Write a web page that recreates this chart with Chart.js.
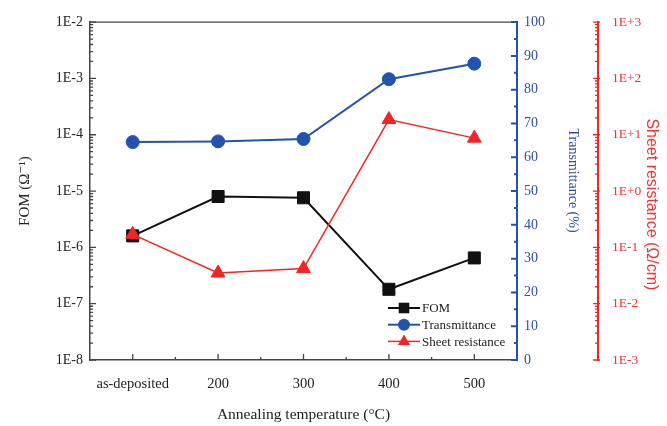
<!DOCTYPE html>
<html>
<head>
<meta charset="utf-8">
<script src="https://cdn.jsdelivr.net/npm/chart.js@4"></script>
<style>
  html, body { margin: 0; padding: 0; background: #fff; }
  #wrap { width: 667px; height: 426px; }
</style>
</head>
<body>
<div id="wrap"><canvas id="chart" width="667" height="426"></canvas></div>
<script>
const temperatures = ['as-deposited', '200', '300', '400', '500'];
const fom = [1.6e-6, 8.0e-6, 7.6e-6, 1.8e-7, 6.5e-7];
const transmittance = [64.5, 64.7, 65.4, 83.1, 87.7];
const sheetResistance = [0.17, 0.035, 0.042, 18.6, 8.7];
const fomTicks = [1e-8, 1e-7, 1e-6, 1e-5, 1e-4, 1e-3, 1e-2];
const transTicks = [0, 10, 20, 30, 40, 50, 60, 70, 80, 90, 100];
const sheetTicks = [1e-3, 1e-2, 1e-1, 1, 10, 100, 1000];

const SERIF = "'Liberation Serif', 'DejaVu Serif', serif";
const SANS = "'Liberation Sans', Arial, sans-serif";
const BLACK = '#111111';
const BLUE = '#2253ad';
const BLUE_TXT = '#2f4f9f';
const RED = '#f22424';
const RED_TXT = '#ee3535';
const NB = '\u00A0';

function sciLabel(v) {
  const e = Math.round(Math.log10(v));
  return '1E' + (e >= 0 ? '+' : '') + e;
}

function logMinors(min, max) {
  const out = [];
  for (let e = Math.round(Math.log10(min)); e < Math.round(Math.log10(max)); e++) {
    for (let k = 2; k <= 9; k++) out.push(k * Math.pow(10, e));
  }
  return out;
}

function marker(ctx, style, x, y, r) {
  ctx.beginPath();
  if (style === 'rect') {
    const h = r * Math.SQRT1_2;
    ctx.rect(x - h, y - h, 2 * h, 2 * h);
  } else if (style === 'circle') {
    ctx.arc(x, y, r, 0, Math.PI * 2);
  } else {
    ctx.moveTo(x, y - r);
    ctx.lineTo(x + r * Math.sin(Math.PI * 2 / 3), y + r * 0.5);
    ctx.lineTo(x - r * Math.sin(Math.PI * 2 / 3), y + r * 0.5);
    ctx.closePath();
  }
  ctx.fill();
}

// inward tick marks + top frame line
const frameTicks = {
  id: 'frameTicks',
  afterDraw(chart) {
    const {ctx, chartArea, scales} = chart;
    const {x, y, y1, y2} = scales;
    ctx.save();
    ctx.lineWidth = 1.3;

    ctx.strokeStyle = '#444';
    ctx.beginPath();
    ctx.moveTo(chartArea.left, chartArea.top);
    ctx.lineTo(chartArea.right, chartArea.top);
    ctx.stroke();

    // left log axis
    ctx.beginPath();
    fomTicks.forEach(v => {
      const py = y.getPixelForValue(v);
      ctx.moveTo(chartArea.left, py); ctx.lineTo(chartArea.left + 6, py);
    });
    logMinors(1e-8, 1e-2).forEach(v => {
      const py = y.getPixelForValue(v);
      ctx.moveTo(chartArea.left, py); ctx.lineTo(chartArea.left + 3, py);
    });
    ctx.stroke();

    // bottom category axis
    ctx.beginPath();
    temperatures.forEach((t, i) => {
      const px = x.getPixelForValue(i);
      ctx.moveTo(px, chartArea.bottom); ctx.lineTo(px, chartArea.bottom - 6);
      if (i < temperatures.length - 1) {
        const mx = (px + x.getPixelForValue(i + 1)) / 2;
        ctx.moveTo(mx, chartArea.bottom); ctx.lineTo(mx, chartArea.bottom - 3);
      }
    });
    ctx.stroke();

    // blue linear axis
    ctx.strokeStyle = BLUE;
    ctx.lineWidth = 2;
    ctx.beginPath();
    for (let v = 0; v <= 100; v += 5) {
      const py = y1.getPixelForValue(v);
      const len = v % 10 === 0 ? 6 : 3;
      ctx.moveTo(chartArea.right, py); ctx.lineTo(chartArea.right - len, py);
    }
    ctx.stroke();

    // red log axis
    ctx.strokeStyle = RED;
    ctx.lineWidth = 1.3;
    ctx.beginPath();
    sheetTicks.forEach(v => {
      const py = y2.getPixelForValue(v);
      ctx.moveTo(y2.left - 5, py); ctx.lineTo(y2.left + 2, py);
    });
    logMinors(1e-3, 1e3).forEach(v => {
      const py = y2.getPixelForValue(v);
      ctx.moveTo(y2.left - 3, py); ctx.lineTo(y2.left, py);
    });
    ctx.stroke();
    ctx.restore();
  }
};

// legend inside the lower right corner
const insideLegend = {
  id: 'insideLegend',
  afterDraw(chart) {
    const {ctx, chartArea} = chart;
    const x0 = chartArea.right - 129;
    const y0 = chartArea.bottom - 52;
    const sizes = [7.5, 6, 7];
    ctx.save();
    chart.data.datasets.forEach((ds, i) => {
      const yy = y0 + i * 16.7;
      ctx.strokeStyle = ds.borderColor;
      ctx.lineWidth = ds.borderWidth;
      ctx.beginPath();
      ctx.moveTo(x0, yy); ctx.lineTo(x0 + 32, yy);
      ctx.stroke();
      ctx.fillStyle = ds.backgroundColor;
      marker(ctx, ds.pointStyle, x0 + 16, yy, sizes[i]);
      ctx.fillStyle = '#222';
      ctx.font = '13px ' + SERIF;
      ctx.textBaseline = 'middle';
      ctx.fillText(ds.label, x0 + 34, yy + 1);
    });
    ctx.restore();
  }
};

new Chart(document.getElementById('chart'), {
  type: 'line',
  data: {
    labels: temperatures,
    datasets: [
      {
        label: 'FOM',
        data: fom,
        yAxisID: 'y',
        borderColor: BLACK,
        backgroundColor: BLACK,
        borderWidth: 2,
        pointStyle: 'rect',
        pointRadius: 8.5,
        pointBorderWidth: 1,
        order: 3
      },
      {
        label: 'Transmittance',
        data: transmittance,
        yAxisID: 'y1',
        borderColor: BLUE,
        backgroundColor: BLUE,
        borderWidth: 2,
        pointStyle: 'circle',
        pointRadius: 6.5,
        pointBorderWidth: 1,
        order: 2
      },
      {
        label: 'Sheet resistance',
        data: sheetResistance,
        yAxisID: 'y2',
        borderColor: RED,
        backgroundColor: RED,
        borderWidth: 1.5,
        pointStyle: 'triangle',
        pointRadius: 8,
        pointBorderWidth: 1,
        order: 1
      }
    ]
  },
  options: {
    responsive: false,
    animation: false,
    devicePixelRatio: 1,
    layout: { padding: { top: 17, right: 0, left: 0, bottom: 0 } },
    plugins: {
      legend: { display: false },
      tooltip: { enabled: false }
    },
    scales: {
      x: {
        type: 'category',
        offset: true,
        grid: { display: false, drawTicks: false },
        border: { display: true, color: '#444', width: 1.5 },
        ticks: { color: '#222', font: { family: SERIF, size: 14.5 }, padding: 15, maxRotation: 0, autoSkip: false },
        title: { display: true, text: 'Annealing temperature (°C)', color: '#222', font: { family: SERIF, size: 15.5 }, padding: { top: 0, bottom: 1.5 } },
        afterFit(s) { s.height = 66; }
      },
      y: {
        type: 'logarithmic',
        position: 'left',
        min: 1e-8,
        max: 1e-2,
        afterBuildTicks(s) { s.ticks = fomTicks.map(v => ({ value: v })); },
        grid: { display: false, drawTicks: false },
        border: { display: true, color: '#444', width: 1.5 },
        ticks: { color: '#222', font: { family: SERIF, size: 14 }, padding: 7, callback: v => sciLabel(v) },
        title: { display: true, text: 'FOM (Ω⁻¹)', color: '#222', font: { family: SERIF, size: 15 }, padding: { top: 16, bottom: 0 } },
        afterFit(s) { s.width = 90; }
      },
      y1: {
        type: 'linear',
        position: 'right',
        weight: 1,
        min: 0,
        max: 100,
        afterBuildTicks(s) { s.ticks = transTicks.map(v => ({ value: v })); },
        grid: { display: false, drawTicks: false },
        border: { display: true, color: BLUE, width: 2 },
        ticks: { color: BLUE_TXT, font: { family: SERIF, size: 14 }, padding: 7 },
        title: { display: true, text: 'Transmittance (%)' + NB.repeat(6), color: BLUE_TXT, font: { family: SERIF, size: 14 }, padding: { top: 16.5, bottom: 0 } },
        afterFit(s) { s.width = 81; }
      },
      y2: {
        type: 'logarithmic',
        position: 'right',
        weight: 2,
        min: 1e-3,
        max: 1e3,
        afterBuildTicks(s) { s.ticks = sheetTicks.map(v => ({ value: v })); },
        grid: { display: false, drawTicks: false },
        border: { display: true, color: RED, width: 2 },
        ticks: { color: RED_TXT, font: { family: SERIF, size: 13.5 }, padding: 14, callback: v => sciLabel(v) },
        title: { display: true, text: NB.repeat(6) + 'Sheet resistance (Ω/cm)', color: RED_TXT, font: { family: SANS, size: 16 }, padding: { top: 5.5, bottom: 0 } },
        afterFit(s) { s.width = 69; }
      }
    }
  },
  plugins: [frameTicks, insideLegend]
});
</script>
